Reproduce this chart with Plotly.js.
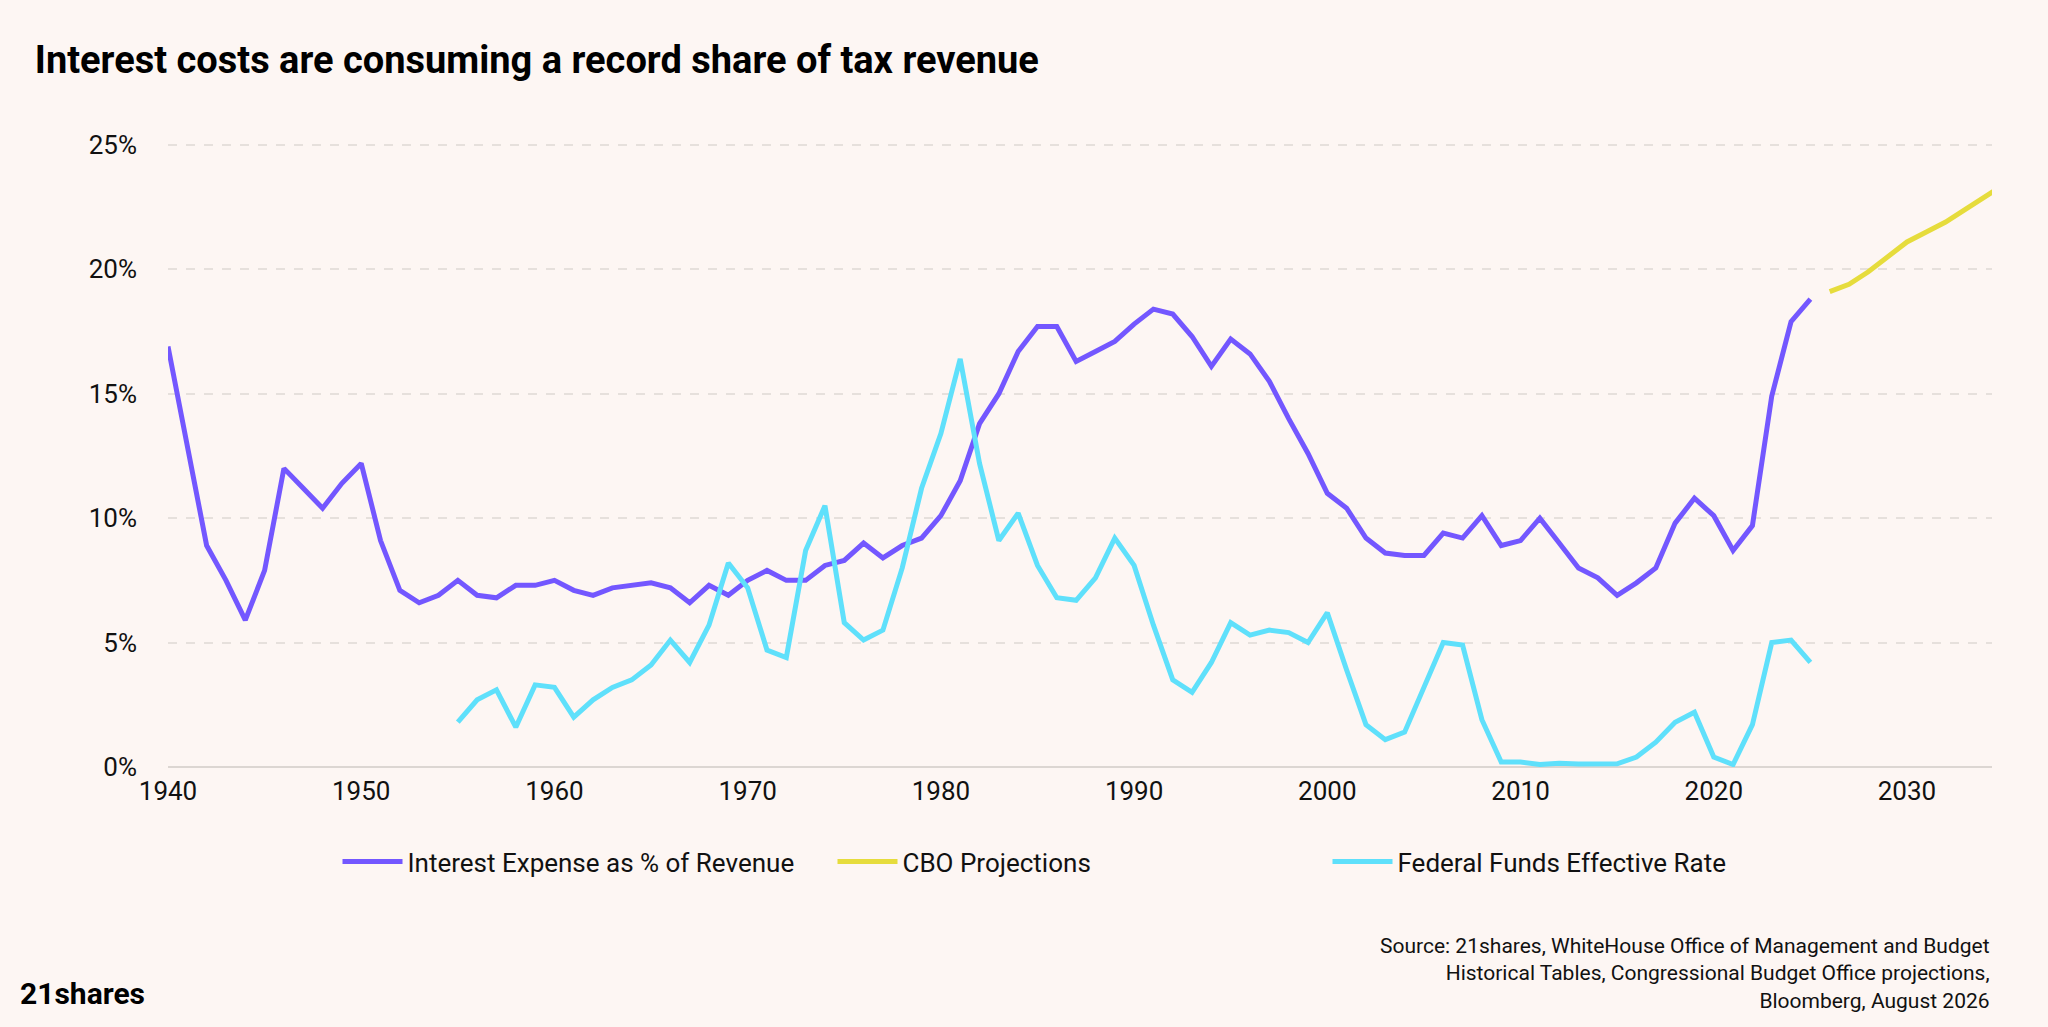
<!DOCTYPE html>
<html>
<head>
<meta charset="utf-8">
<script src="https://cdn.plot.ly/plotly-3.0.1.min.js"></script>
<style>
  body { margin: 0; background: #fdf6f3; }
  #chart { width: 2048px; height: 1027px; }
</style>
</head>
<body>
<div id="chart"></div>
<script>
// Interest expense as % of revenue, 1940-2025
const interestYears = [];
for (let y = 1940; y <= 2025; y++) interestYears.push(y);
const interestPct = [16.9, 12.8, 8.9, 7.5, 5.9, 7.9, 12.0, 11.2, 10.4, 11.4,
  12.2, 9.1, 7.1, 6.6, 6.9, 7.5, 6.9, 6.8, 7.3, 7.3,
  7.5, 7.1, 6.9, 7.2, 7.3, 7.4, 7.2, 6.6, 7.3, 6.9,
  7.5, 7.9, 7.5, 7.5, 8.1, 8.3, 9.0, 8.4, 8.9, 9.2,
  10.1, 11.5, 13.8, 15.0, 16.7, 17.7, 17.7, 16.3, 16.7, 17.1,
  17.8, 18.4, 18.2, 17.3, 16.1, 17.2, 16.6, 15.5, 14.0, 12.6,
  11.0, 10.4, 9.2, 8.6, 8.5, 8.5, 9.4, 9.2, 10.1, 8.9,
  9.1, 10.0, 9.0, 8.0, 7.6, 6.9, 7.4, 8.0, 9.8, 10.8,
  10.1, 8.7, 9.7, 14.9, 17.9, 18.8];

// CBO projections
const cboYears = [2026, 2027, 2028, 2029, 2030, 2031, 2032, 2033, 2034, 2035];
const cboPct = [19.1, 19.4, 19.9, 20.5, 21.1, 21.5, 21.9, 22.4, 22.9, 23.4];

// Federal funds effective rate, 1955-2025
const fedYears = [];
for (let y = 1955; y <= 2025; y++) fedYears.push(y);
const fedRate = [1.8, 2.7, 3.1, 1.6, 3.3, 3.2, 2.0, 2.7, 3.2, 3.5,
  4.1, 5.1, 4.2, 5.7, 8.2, 7.2, 4.7, 4.4, 8.7, 10.5,
  5.8, 5.1, 5.5, 8.0, 11.2, 13.4, 16.4, 12.2, 9.1, 10.2,
  8.1, 6.8, 6.7, 7.6, 9.2, 8.1, 5.7, 3.5, 3.0, 4.2,
  5.8, 5.3, 5.5, 5.4, 5.0, 6.2, 3.9, 1.7, 1.1, 1.4,
  3.2, 5.0, 4.9, 1.9, 0.2, 0.2, 0.1, 0.15, 0.12, 0.1,
  0.13, 0.4, 1.0, 1.8, 2.2, 0.4, 0.1, 1.7, 5.0, 5.1, 4.2];

const yTicks = [0, 5, 10, 15, 20, 25];
const yTickText = ["0%", "5%", "10%", "15%", "20%", "25%"];

const data = [
  { x: interestYears, y: interestPct, name: "Interest Expense as % of Revenue",
    type: "scatter", mode: "lines", line: { color: "#7357ff", width: 5 } },
  { x: cboYears, y: cboPct, name: "CBO Projections",
    type: "scatter", mode: "lines", line: { color: "#e6dc3c", width: 5 } },
  { x: fedYears, y: fedRate, name: "Federal Funds Effective Rate",
    type: "scatter", mode: "lines", line: { color: "#5fe0fb", width: 5 } }
];

const layout = {
  width: 2048, height: 1027,
  paper_bgcolor: "#fdf6f3", plot_bgcolor: "#fdf6f3",
  font: { family: "Roboto, Arial, sans-serif", color: "#111", size: 26 },
  margin: { l: 168, r: 56, t: 120, b: 260 },
  title: { text: "<b>Interest costs are consuming a record share of tax revenue</b>",
    x: 0.017, xanchor: "left", y: 0.942, yanchor: "middle",
    font: { size: 38, family: "Roboto, Arial, sans-serif", color: "#000" } },
  xaxis: { range: [1940, 2034.4], tickvals: [1940, 1950, 1960, 1970, 1980, 1990, 2000, 2010, 2020, 2030],
    showgrid: false, zeroline: false, showline: false, ticks: "", ticklabelstandoff: 6,
    tickfont: { size: 26 } },
  yaxis: { range: [0, 26], tickvals: yTicks, ticktext: yTickText,
    gridcolor: "#e6e0dc", griddash: "dash", gridwidth: 2, zeroline: true,
    zerolinecolor: "#dcd6d2", zerolinewidth: 2, ticks: "", ticklabelstandoff: 30,
    tickfont: { size: 26 } },
  showlegend: true,
  legend: { orientation: "h", x: 0.5, xanchor: "center", y: -0.11, yanchor: "top",
    font: { size: 26 }, entrywidth: 420, itemwidth: 60, traceorder: "normal" },
  annotations: [
    { text: "Source: 21shares, WhiteHouse Office of Management and Budget<br>Historical Tables, Congressional Budget Office projections,<br>Bloomberg, August 2026",
      xref: "paper", yref: "paper", x: 1.0, y: -0.255, xanchor: "right", yanchor: "top",
      align: "right", showarrow: false, font: { size: 21, color: "#111" } },
    { text: "<b>21shares</b>", xref: "paper", yref: "paper", x: -0.082, y: -0.35,
      xanchor: "left", yanchor: "middle", showarrow: false,
      font: { size: 30, color: "#000", family: "Roboto, Arial, sans-serif" } }
  ]
};

Plotly.newPlot("chart", data, layout, { displayModeBar: false });
</script>
</body>
</html>
